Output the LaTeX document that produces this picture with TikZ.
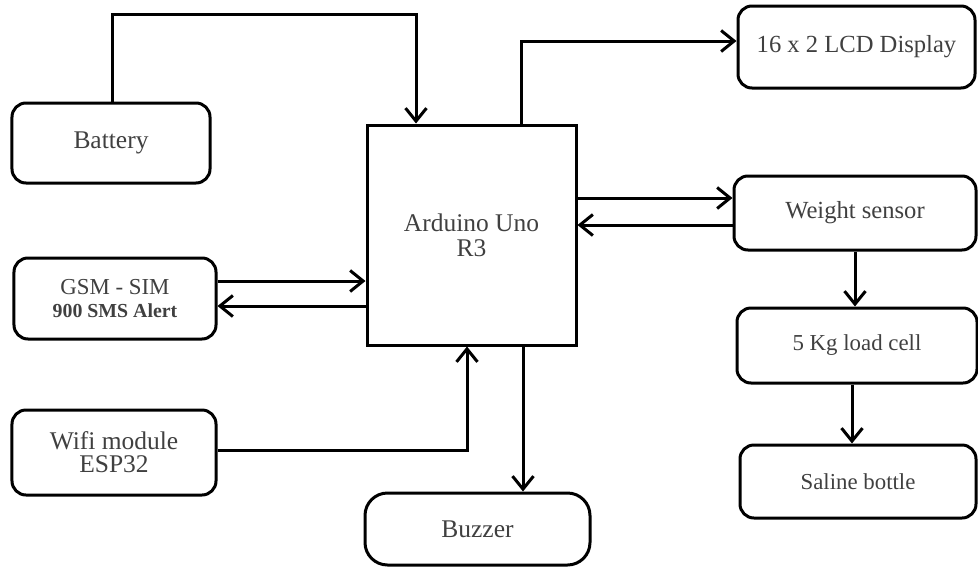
\documentclass[tikz,border=0pt]{standalone}
\usepackage{fontspec}
\setmainfont{Liberation Serif}
\usetikzlibrary{arrows.meta,positioning}

\begin{document}
\begin{tikzpicture}[
  x=0.2mm, y=-0.2mm,
  >={Straight Barb[length=2.6mm,width=4.2mm]},
  blkbox/.style={draw=black, line width=0.6mm, rounded corners=2.8mm, align=center,
                 inner sep=0pt, text=black!75, font=\fontsize{14.5}{13}\selectfont},
  ctrlbox/.style={blkbox, rounded corners=0pt, font=\fontsize{14.5}{14.2}\selectfont},
  smallbox/.style={blkbox, font=\fontsize{13}{13}\selectfont},
  link/.style={->, line width=0.6mm, draw=black}
]
  \useasboundingbox (0,0) rectangle (978,569);

  % left column
  \node[blkbox, minimum width=39.6mm, minimum height=16mm] (battery) at (111,143) {Battery};
  \node[blkbox, minimum width=40.4mm, minimum height=16.2mm] (gsm) at (115,298.5)
    {\fontsize{13}{12.5}\selectfont GSM - SIM\\\fontsize{11.3}{12.5}\selectfont\bfseries 900 SMS Alert};
  \node[blkbox, minimum width=40.8mm, minimum height=17mm] (wifi) at (114,452.5)
    {Wifi module\\ESP32};

  % controller and buzzer
  \node[ctrlbox, minimum width=41.8mm, minimum height=44mm] (arduino) at (471.5,235)
    {Arduino Uno\\R3};
  \node[blkbox, rounded corners=4.5mm, minimum width=45mm, minimum height=14.4mm] (buzzer) at (477.5,529) {Buzzer};

  % right column
  \node[blkbox, minimum width=47.4mm, minimum height=16.4mm,
        font=\fontsize{14}{14}\selectfont] (lcd) at (856.5,47) {16 x 2 LCD Display};
  \node[blkbox, minimum width=48.4mm, minimum height=14.8mm,
        font=\fontsize{14}{14}\selectfont] (weight) at (855,213) {Weight sensor};
  \node[smallbox, minimum width=48mm, minimum height=15mm] (load) at (857,345.5) {5 Kg load cell};
  \node[smallbox, minimum width=47.2mm, minimum height=14.6mm] (saline) at (858,481.5) {Saline bottle};

  \coordinate (pwr) at (416,14);

  \draw[link] (battery.north -| 112,0) |- (pwr) -- (pwr |- arduino.north);
  \draw[link] (arduino.north -| 521,0) |- (lcd.west |- 0,41);
  \draw[link] (arduino.east |- 0,198) -- (weight.west |- 0,198);
  \draw[link] (weight.west |- 0,225) -- (arduino.east |- 0,225);
  \draw[link] (gsm.east |- 0,281) -- (arduino.west |- 0,281);
  \draw[link] (arduino.west |- 0,306) -- (gsm.east |- 0,306);
  \draw[link] (wifi.east |- 0,450) -| (arduino.south -| 467,0);
  \draw[link] (arduino.south -| 523,0) -- (buzzer.north -| 523,0);
  \draw[link] (weight.south) -- (weight.south |- load.north);
  \draw[link] (load.south -| 852,0) -- (saline.north -| 852,0);
\end{tikzpicture}
\end{document}
